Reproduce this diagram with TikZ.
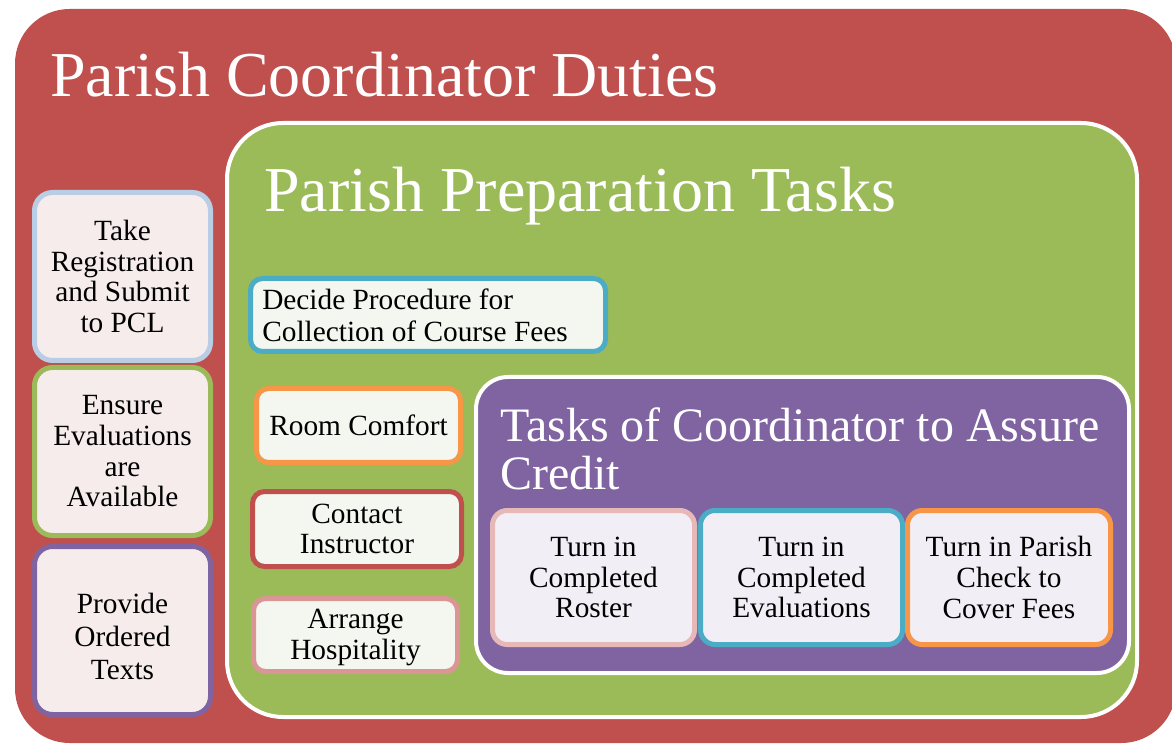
\documentclass[tikz,border=0pt]{standalone}
\usepackage{fontspec}
\setmainfont{Liberation Serif}
\usetikzlibrary{fit}
\definecolor{ored}{HTML}{C0504D}
\definecolor{ogreen}{HTML}{9BBB59}
\definecolor{opurple}{HTML}{8064A2}
\definecolor{oblue}{HTML}{4BACC6}
\definecolor{oorange}{HTML}{F79646}
\definecolor{olblue}{HTML}{B9CDE5}
\definecolor{opink}{HTML}{D99694}
\definecolor{olpink}{HTML}{E6B9B8}
\definecolor{fillred}{HTML}{F6ECEC}
\definecolor{fillgreen}{HTML}{F4F7EF}
\definecolor{fillpurple}{HTML}{F1EFF5}
\begin{document}
\begin{tikzpicture}[x=0.75pt,y=-0.75pt,
  leftbox/.style={fit={#1}, inner sep=0pt, rounded corners=13.5pt, line width=3.75pt, fill=fillred},
  greenbox/.style={fit={#1}, inner sep=0pt, rounded corners=9pt, line width=3.75pt, fill=fillgreen},
  purplebox/.style={fit={#1}, inner sep=0pt, rounded corners=11pt, line width=3.75pt, fill=fillpurple},
  txt/.style={inner sep=0pt, align=center, font=\fontsize{22}{23}\selectfont, text=black},
  bigtitle/.style={inner sep=0pt, anchor=base west, text=white, font=\fontsize{48}{48}\selectfont},
  midtitle/.style={inner sep=0pt, anchor=base west, text=white, font=\fontsize{36}{36}\selectfont}]
\useasboundingbox (0,0) rectangle (1172,745);
% outer red container
\node[fit={(15,9)(1176,743)}, inner sep=0pt, fill=ored, rounded corners=41pt] (red) {};
\node[bigtitle] (redtitle) at (50,97) {Parish Coordinator Duties};
% left boxes
\node[leftbox={(34.5,192.5)(210.5,360.5)}, draw=olblue] (b1) {};
\node[txt] (t1) at (b1.center) {Take\\Registration\\and Submit\\to PCL};
\node[leftbox={(34.5,367.5)(210.5,535.5)}, draw=ogreen] (b2) {};
\node[txt] (t2) at (b2.center) {Ensure\\Evaluations\\are\\Available};
\node[leftbox={(34.5,546.5)(210.5,714.5)}, draw=opurple] (b3) {};
\node[txt, font=\fontsize{22}{25}\selectfont, yshift=-4.5pt] (t3) at (b3.center) {Provide\\Ordered\\Texts};
% green container
\node[fit={(227,123)(1137,717)}, inner sep=0pt, fill=ogreen, draw=white, line width=3pt, rounded corners=42pt] (green) {};
\node[bigtitle] (greentitle) at (264,212) {Parish Preparation Tasks};
\node[greenbox={(250.5,278.5)(605.5,351.5)}, draw=oblue] (g1) {};
\node[txt, align=left, anchor=west, font=\fontsize{22}{24}\selectfont] (tg1) at ([xshift=-3pt]g1.west) {\hspace*{13.5pt}Decide Procedure for\\\hspace*{13.5pt}Collection of Course Fees};
\node[greenbox={(256.5,388.5)(460.5,462.5)}, draw=oorange] (g2) {};
\node[txt] (tg2) at (g2.center) {Room Comfort};
\node[greenbox={(252.5,491.5)(461.5,566.5)}, draw=ored] (g3) {};
\node[txt] (tg3) at (g3.center) {Contact\\Instructor};
\node[greenbox={(253.5,598.5)(457.5,671.5)}, draw=opink] (g4) {};
\node[txt, yshift=-2pt] (tg4) at (g4.center) {Arrange\\Hospitality};
% purple container
\node[fit={(476,377)(1129,673)}, inner sep=0pt, fill=opurple, draw=white, line width=3pt, rounded corners=24pt] (purple) {};
\node[midtitle] (ptitle1) at (500,441) {Tasks of Coordinator to Assure};
\node[midtitle] (ptitle2) at (500,489) {Credit};
\node[purplebox={(492.5,510.5)(694.5,644.5)}, draw=olpink] (p1) {};
\node[txt] (tp1) at (p1.center) {Turn in\\Completed\\Roster};
\node[purplebox={(700.5,510.5)(902.5,644.5)}, draw=oblue] (p2) {};
\node[txt] (tp2) at (p2.center) {Turn in\\Completed\\Evaluations};
\node[purplebox={(907.5,510.5)(1110.5,644.5)}, draw=oorange] (p3) {};
\node[txt] (tp3) at (p3.center) {Turn in Parish\\Check to\\Cover Fees};
\end{tikzpicture}
\end{document}
